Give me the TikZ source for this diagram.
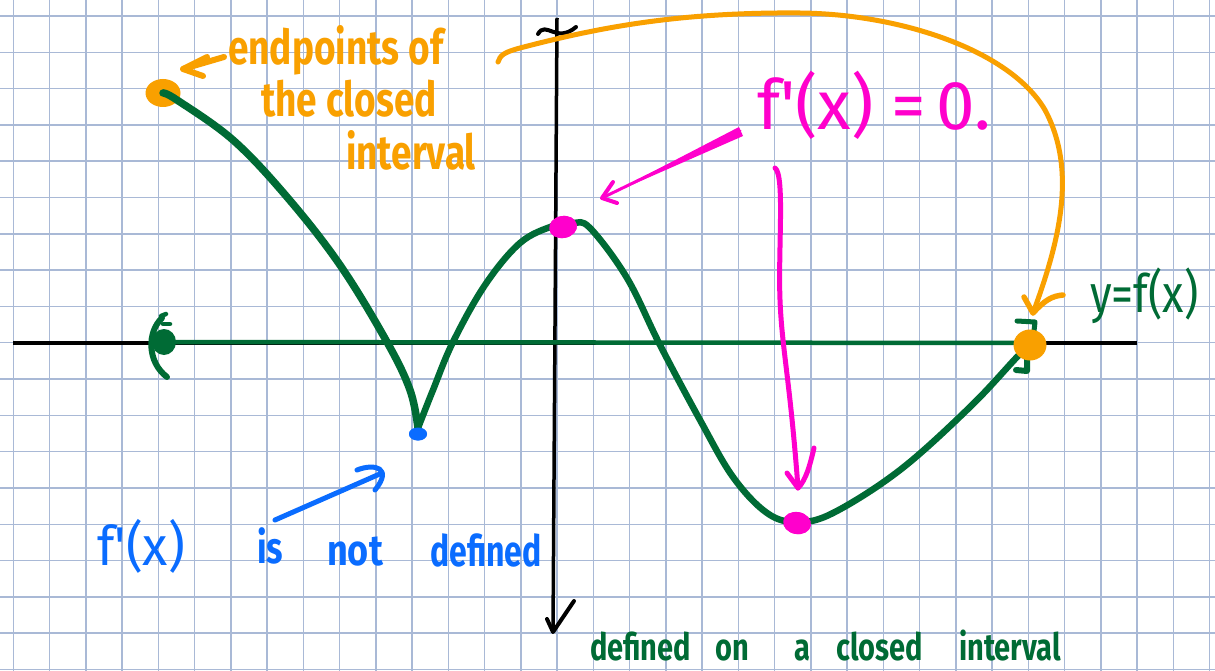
\documentclass[tikz,border=0pt]{standalone}
\usepackage{fontspec}
\setmainfont{Fira Sans}
\usetikzlibrary{arrows.meta,shapes.geometric}
\definecolor{gridc}{HTML}{A9B9D6}
\definecolor{gr}{HTML}{006B35}
\definecolor{org}{HTML}{F9A000}
\definecolor{mag}{HTML}{FF00CC}
\definecolor{blu}{HTML}{0A6CFF}
\tikzset{
  gline/.style={gridc, line width=1.4pt},
  dotb/.style={ellipse, inner sep=0pt, draw=none},
  txt/.style={anchor=base west, inner sep=0pt},
  curvep/.style={gr, line width=7.5pt, line cap=round, line join=round},
}
\newcommand{\prm}{\textquotesingle}
\begin{document}
\begin{tikzpicture}[x=1pt,y=-1pt]
\useasboundingbox (0,0) rectangle (1215,671);
\fill[white] (0,0) rectangle (1215,671);
% grid
\foreach \i in {0,...,33} \draw[gline] ({13.3+36.25*\i},0) -- ({13.3+36.25*\i},671);
\foreach \j in {0,...,18} \draw[gline] (0,{16+36.3*\j}) -- (1215,{16+36.3*\j});
% axes
\coordinate (xl) at (13,343);
\coordinate (xr) at (1137,343);
\coordinate (yt) at (557,18);
\coordinate (yb) at (553,632);
\draw[black, line width=3.5pt] (xl) -- (xr);
\draw[black, line width=3.5pt] (yt) -- (yb);
\draw[black, line width=4pt, line cap=round] (538,34) .. controls (546,20) and (556,44) .. (576,27);
\draw[black, line width=4pt, line cap=round, line join=round] (547,619) -- (yb) -- (574,601);
% green interval on axis
\coordinate (il) at (164,342);
\coordinate (ir) at (1030,343);
\draw[gr, line width=4.5pt] (il) -- (ir);
\fill[gr] (il) ellipse (12pt and 13pt);
\draw[gr, line width=6pt, line cap=round] (162,318) .. controls (147,332) and (147,362) .. (167,377);
\draw[gr, line width=4.5pt, line cap=round] (161,316) -- (166,314);
\draw[gr, line width=4.5pt, line cap=round] (163,324) -- (170,324);
\draw[gr, line width=5pt, line cap=round, line join=round] (1017,321) -- (1035,322) -- (1034,331);
\draw[gr, line width=6pt, line cap=round, line join=round] (1016,370) -- (1027,371) -- (1027,357);
% dots
\node[dotb, fill=org, minimum width=35pt, minimum height=28pt] (eL) at (163,93) {};
\node[dotb, fill=blu, minimum width=18pt, minimum height=13pt] (cusp) at (418,434) {};
\node[dotb, fill=mag, minimum width=28pt, minimum height=22pt, rotate=10] (pk) at (563,227) {};
\node[dotb, fill=mag, minimum width=28pt, minimum height=22pt, rotate=-10] (mn) at (797,523) {};
% curve
\draw[curvep] plot[smooth, tension=0.6] coordinates {(eL.center) (177,100) (233,140) (287,197) (340,265) (387,342) (410,390) (418,428)};
\draw[curvep, line width=6.5pt] plot[smooth, tension=0.6] coordinates {(418,428) (433,390) (453,342) (485,285) (520,243) (553,226) (573,223) (590,228) (627,278) (660,345) (700,420) (733,477) (767,513) (797,522) (833,513) (900,470) (970,407) (1017,357) (1030,345)};
\node[dotb, fill=org, minimum width=33pt, minimum height=31pt] (eR) at (1030,345) {};
\fill[blu] (cusp) ellipse (9pt and 6.5pt);
\fill[mag, rotate around={10:(563,227)}] (pk) ellipse (14pt and 11pt);
\fill[mag, rotate around={-10:(797,523)}] (mn) ellipse (14pt and 11pt);
% orange annotations
\node[txt, org, font=\fontsize{37}{39}\selectfont\bfseries] (t1) at (228,65) {\scalebox{1}[1.3]{endpoints of}};
\node[txt, org, font=\fontsize{37}{39}\selectfont\bfseries] (t2) at (261,117) {\scalebox{1}[1.3]{the closed}};
\node[txt, org, font=\fontsize{37}{39}\selectfont\bfseries] (t3) at (346,170) {\scalebox{1}[1.3]{interval}};
\coordinate (oa) at (224,57);
\coordinate (ob) at (183,69);
\draw[org, line width=6pt, line cap=round, line join=round] (oa) -- (ob);
\draw[org, line width=6pt, line cap=round, line join=round] (207,57) -- (ob) -- (203,76);
\coordinate (os) at (498,62);
\draw[org, line width=5pt, line cap=round] (os) .. controls (500,55) and (505,52) .. (520,48)
  .. controls (600,27) and (680,12) .. (800,13)
  .. controls (900,14) and (1010,50) .. (1045,110)
  .. controls (1077,170) and (1060,240) .. (1033,313);
\draw[org, line width=5.5pt, line cap=round, line join=round] (1024,297) -- (1033,313) .. controls (1045,300) and (1052,296) .. (1063,295);
% magenta annotations
\node[txt, mag, font=\fontsize{64}{66}\selectfont] (t4) at (757,130) {\scalebox{1.08}[1.08]{f\prm(x)\hspace{16pt}=\hspace{10pt}0.}};
\coordinate (ma) at (740,131);
\coordinate (mb) at (602,198);
\fill[mag] (739,127) -- (743,136) -- (mb) -- cycle;
\draw[mag, line width=3pt, line cap=round] (ma) -- (mb);
\draw[mag, line width=4pt, line cap=round, line join=round] (613,182) -- (mb) -- (617,203);
\coordinate (mc) at (775,168);
\coordinate (md) at (798,488);
\draw[mag, line width=5pt, line cap=round] (mc) .. controls (785,175) and (778,250) .. (780,300) .. controls (782,350) and (790,380) .. (md);
\draw[mag, line width=5pt, line cap=round, line join=round] (787,473) -- (md) .. controls (806,480) and (810,465) .. (814,448);
% blue annotations
\node[txt, blu, font=\fontsize{52}{54}\selectfont] (b1) at (97,565) {\scalebox{1}[1.05]{f\prm(x)}};
\node[txt, blu, font=\fontsize{34}{36}\selectfont\bfseries] (b2) at (257,563) {\scalebox{1}[1.3]{is}};
\node[txt, blu, font=\fontsize{36}{38}\selectfont\bfseries] (b3) at (327,565) {\scalebox{1}[1.2]{not}};
\node[txt, blu, font=\fontsize{32}{34}\selectfont\bfseries] (b4) at (430,566) {\scalebox{1}[1.35]{defined}};
\coordinate (ba) at (275,520);
\coordinate (bb) at (382,473);
\draw[blu, line width=5pt, line cap=round] (ba) -- (bb);
\draw[blu, line width=5pt, line cap=round, line join=round] (357,470) .. controls (375,463) and (393,468) .. (375,490);
% green labels
\node[txt, gr, font=\fontsize{44}{46}\selectfont] (g1) at (1090,312) {\scalebox{1}[1.2]{y=f(x)}};
\node[txt, gr, font=\fontsize{29}{31}\selectfont\bfseries] (g2) at (590,660) {\scalebox{1}[1.3]{defined}};
\node[txt, gr, font=\fontsize{29}{31}\selectfont\bfseries] (g3) at (715,660) {\scalebox{1}[1.3]{on}};
\node[txt, gr, font=\fontsize{29}{31}\selectfont\bfseries] (g4) at (794,660) {\scalebox{1}[1.3]{a}};
\node[txt, gr, font=\fontsize{29}{31}\selectfont\bfseries] (g5) at (836,660) {\scalebox{1}[1.3]{closed}};
\node[txt, gr, font=\fontsize{29}{31}\selectfont\bfseries] (g6) at (959,660) {\scalebox{1}[1.3]{interval}};
\end{tikzpicture}
\end{document}
